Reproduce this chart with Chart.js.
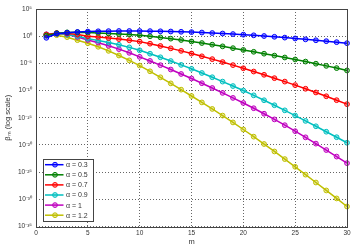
<!DOCTYPE html>
<html><head><meta charset="utf-8">
<script src="https://cdn.jsdelivr.net/npm/chart.js@4/dist/chart.umd.min.js"></script>
<style>html,body{margin:0;padding:0;background:#fff}#w{width:359px;height:246px}</style>
</head><body><div id="w"><canvas id="c"></canvas></div>
<script>
const mValues = [1,2,3,4,5,6,7,8,9,10,11,12,13,14,15,16,17,18,19,20,21,22,23,24,25,26,27,28,29,30];
const seriesLabels = ['α = 0.3','α = 0.5','α = 0.7','α = 0.9','α = 1','α = 1.2'];
// log10(beta_m)
const logBeta03 = [-0.3,0.45,0.65,0.78,0.85,0.9,0.93,0.95,0.95,0.95,0.93,0.9,0.86,0.81,0.75,0.67,0.58,0.49,0.39,0.28,0.16,0.03,-0.11,-0.26,-0.42,-0.58,-0.75,-0.92,-1.1,-1.29];
const logBeta05 = [0.1,0.55,0.7,0.72,0.66,0.6,0.5,0.4,0.3,0.18,-0.02,-0.22,-0.45,-0.7,-0.97,-1.26,-1.56,-1.87,-2.2,-2.53,-2.87,-3.22,-3.57,-3.92,-4.28,-4.67,-5.06,-5.46,-5.87,-6.3];
const logBeta07 = [0.3,0.55,0.5,0.3,0.0,-0.15,-0.33,-0.53,-0.75,-1.0,-1.38,-1.8,-2.24,-2.7,-3.2,-3.7,-4.22,-4.76,-5.32,-5.9,-6.5,-7.1,-7.72,-8.35,-9.0,-9.67,-10.35,-11.05,-11.77,-12.5];
const logBeta09 = [0.3,0.5,0.3,0.0,-0.45,-0.8,-1.16,-1.58,-2.06,-2.6,-3.22,-3.88,-4.57,-5.28,-6.0,-6.77,-7.55,-8.35,-9.17,-10.0,-10.88,-11.78,-12.7,-13.64,-14.6,-15.58,-16.57,-17.57,-18.58,-19.6];
const logBeta10 = [0.35,0.55,0.3,-0.15,-0.7,-1.2,-1.76,-2.38,-3.06,-3.8,-4.55,-5.33,-6.13,-6.95,-7.78,-8.65,-9.53,-10.43,-11.35,-12.28,-13.25,-14.26,-15.3,-16.37,-17.47,-18.6,-19.76,-20.94,-22.14,-23.35];
const logBeta12 = [0.25,0.18,-0.18,-0.73,-1.3,-1.95,-2.7,-3.55,-4.45,-5.4,-6.46,-7.56,-8.68,-9.83,-11.0,-12.18,-13.38,-14.6,-15.86,-17.16,-18.48,-19.83,-21.2,-22.6,-24.02,-25.46,-26.91,-28.37,-29.84,-31.32];
const yTickExponents = [5,0,-5,-10,-15,-20,-25,-30,-35];
const xTicks = [0,5,10,15,20,25,30];

const colors = ['#0000ff','#008000','#ff0000','#00bfbf','#bf00bf','#bfbf00'];
const fills  = ['rgba(0,0,255,0.35)','rgba(0,128,0,0.35)','rgba(255,0,0,0.35)','rgba(0,191,191,0.35)','rgba(191,0,191,0.35)','rgba(191,191,0,0.35)'];
const allLogs = [logBeta03,logBeta05,logBeta07,logBeta09,logBeta10,logBeta12];

const sup = {'0':'⁰','1':'¹','2':'²','3':'³','4':'⁴','5':'⁵','6':'⁶','7':'⁷','8':'⁸','9':'⁹','-':'⁻'};
function supText(n){return String(n).split('').map(c=>sup[c]).join('');}

Chart.defaults.font.family = "'Liberation Sans', Arial, sans-serif";
Chart.defaults.color = '#333';

const datasets = allLogs.map((arr,i)=>({
  label: seriesLabels[i],
  data: mValues.map((m,j)=>({x:m, y:Math.pow(10, arr[j])})),
  borderColor: colors[i],
  backgroundColor: fills[i],
  pointBackgroundColor: fills[i],
  pointBorderColor: colors[i],
  pointRadius: 2.4,
  pointBorderWidth: 1,
  borderWidth: 1.5,
  tension: 0,
  clip: 6
}));

const boxPlugin = {
  id:'box',
  afterDraw(chart){
    const {ctx, chartArea:a} = chart;
    ctx.save();
    ctx.strokeStyle = '#444';
    ctx.lineWidth = 1;
    ctx.strokeRect(Math.round(a.left)+0.5, Math.round(a.top)+0.5, Math.round(a.right-a.left), Math.round(a.bottom-a.top));
    // legend
    const lx = 43.5, ly = 159.5, lw = 50, lh = 62;
    ctx.fillStyle = '#fff';
    ctx.fillRect(lx, ly, lw, lh);
    ctx.strokeStyle = '#444';
    ctx.strokeRect(lx, ly, lw, lh);
    chart.data.datasets.forEach((ds,i)=>{
      const y = 164.7 + i*10.1;
      ctx.strokeStyle = ds.borderColor;
      ctx.lineWidth = 1.5;
      ctx.beginPath(); ctx.moveTo(45,y); ctx.lineTo(63.5,y); ctx.stroke();
      ctx.beginPath(); ctx.arc(55,y,2.4,0,Math.PI*2);
      ctx.fillStyle = ds.pointBackgroundColor; ctx.fill();
      ctx.lineWidth = 1; ctx.stroke();
      ctx.fillStyle = '#333';
      ctx.font = "7px 'Liberation Sans', Arial, sans-serif";
      ctx.textBaseline = 'middle';
      ctx.fillText(ds.label, 66, y+0.5);
    });
    ctx.restore();
  }
};

new Chart(document.getElementById('c'), {
  type:'line',
  data:{datasets},
  options:{
    responsive:true, maintainAspectRatio:false, animation:false,
    layout:{padding:{top:9,right:12,left:0,bottom:0}},
    plugins:{legend:{display:false}, tooltip:{enabled:false}},
    scales:{
      x:{
        type:'linear', min:0, max:30,
        afterBuildTicks(s){ s.ticks = xTicks.map(v=>({value:v})); },
        afterFit(s){ s.height = 19.5; },
        grid:{color:'#555', lineWidth:0.9, drawTicks:false, tickLength:0},
        border:{display:false, dash:[1,2]},
        ticks:{font:{size:6.5}, padding:3, maxRotation:0},
        title:{display:true, text:'m', font:{size:7.5}, padding:{top:0,bottom:0}}
      },
      y:{
        type:'logarithmic', min:1e-35, max:1e5,
        afterBuildTicks(s){ s.ticks = yTickExponents.map(e=>({value:Math.pow(10,e)})); },
        afterFit(s){ s.width = 36; },
        grid:{color:'#555', lineWidth:0.9, drawTicks:false, tickLength:0},
        border:{display:false, dash:[1,2]},
        ticks:{font:{size:6.5}, padding:4, autoSkip:false,
          callback(v){ return '10' + supText(Math.round(Math.log10(v))); }},
        title:{display:true, text:'βₘ (log scale)', font:{size:7.5}, padding:{top:3.5,bottom:0}}
      }
    }
  },
  plugins:[boxPlugin]
});
</script></body></html>
